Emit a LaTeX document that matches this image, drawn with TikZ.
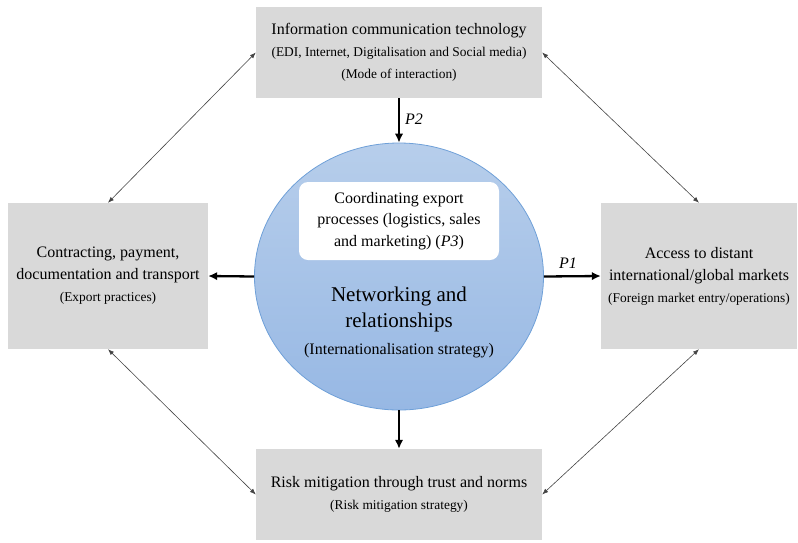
\documentclass[tikz,border=0pt]{standalone}
\usepackage{fontspec}
\setmainfont{Liberation Serif}
\usetikzlibrary{arrows.meta,shapes.geometric}
\definecolor{boxgray}{HTML}{D9D9D9}
\definecolor{ovaltop}{HTML}{B7CEEB}
\definecolor{ovalbot}{HTML}{97B8E4}
\definecolor{ovalline}{HTML}{6FA0D8}
\definecolor{linkgray}{HTML}{444444}
\newcommand{\mainsz}{\fontsize{16}{22}\selectfont}
\newcommand{\smallsz}{\fontsize{13.4}{22}\selectfont}
\begin{document}
\begin{tikzpicture}[x=1pt,y=-1pt,
  greybox/.style={fill=boxgray, draw=none, inner sep=0pt, align=center, font=\mainsz},
  bigarrow/.style={line width=2.3pt, -{Latex[length=9pt,width=8.5pt]}},
  thinlink/.style={line width=0.6pt, draw=linkgray,
     {Latex[length=6pt,width=4.5pt]}-{Latex[length=6pt,width=4.5pt]}},
  plabel/.style={font=\mainsz\itshape, inner sep=0pt}]
\useasboundingbox (0,0) rectangle (798,542);

% four surrounding boxes
\node[greybox, minimum width=286pt, minimum height=91pt] (ict) at (399,52.5)
  {Information communication technology\\
   \smallsz (EDI, Internet, Digitalisation and Social media)\\
   \smallsz (Mode of interaction)};
\node[greybox, minimum width=200pt, minimum height=146pt] (prac) at (108,276)
  {Contracting, payment,\\
   documentation and transport\\
   \smallsz (Export practices)};
\node[greybox, minimum width=196pt, minimum height=146pt] (mkt) at (699,276)
  {Access to distant\\
   international/global markets\\
   \smallsz (Foreign market entry/operations)};
\node[greybox, minimum width=286pt, minimum height=91pt] (risk) at (399,494.5)
  {Risk mitigation through trust and norms\\
   \smallsz (Risk mitigation strategy)};

% central oval
\node[ellipse, minimum width=289pt, minimum height=267pt, inner sep=0pt,
      top color=ovaltop, bottom color=ovalbot, draw=ovalline, line width=0.8pt]
      (net) at (399,276.5) {};
\node[fill=white, rounded corners=9pt, minimum width=200pt, minimum height=78pt,
      inner sep=0pt, align=center, font=\fontsize{16}{21.5}\selectfont] (coord) at (399,221)
  {Coordinating export\\
   processes (logistics, sales\\
   and marketing) (\textit{P3})};
\node[align=center, inner sep=0pt, font=\fontsize{21}{26.5}\selectfont] (nettext) at (399,322)
  {Networking and\\
   relationships\\
   \mainsz (Internationalisation strategy)};

% propositions
\draw[bigarrow] (ict.south) -- (net.north);
\draw[bigarrow] (net.east) -- (mkt.west);
\draw[bigarrow] (net.west) -- (prac.east);
\draw[bigarrow] (net.south) -- (risk.north);
\node[plabel] (p2) at (414,119) {P2};
\node[plabel] (p1) at (568,263) {P1};

% links between the outer boxes
\draw[thinlink] (prac.north) -- (ict.west);
\draw[thinlink] (ict.east) -- (mkt.north);
\draw[thinlink] (prac.south) -- (risk.west);
\draw[thinlink] (risk.east) -- (mkt.south);
\end{tikzpicture}
\end{document}
